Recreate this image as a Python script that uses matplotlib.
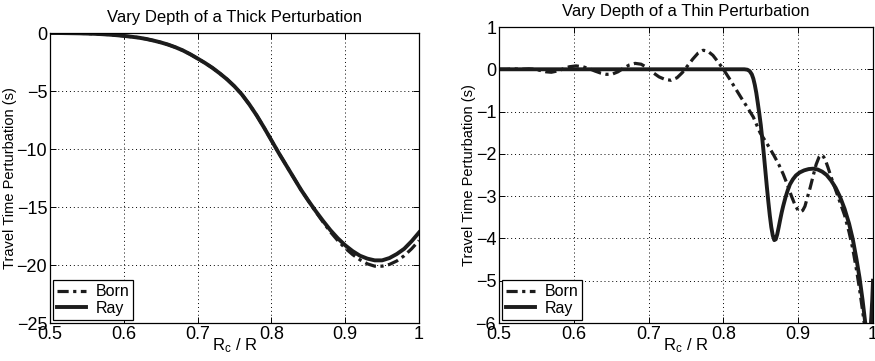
import numpy as np
import matplotlib
matplotlib.use("Agg")
from matplotlib import pyplot as plt

plt.rcParams["font.family"] = ["Liberation Sans", "DejaVu Sans"]
plt.rcParams["mathtext.default"] = "regular"

# ---------------- thick perturbation (left panel) ----------------
thick_x = [0.50, 0.51, 0.52, 0.53, 0.54, 0.55, 0.56, 0.57, 0.58, 0.59,
           0.60, 0.61, 0.62, 0.63, 0.64, 0.65, 0.66, 0.67, 0.68, 0.69,
           0.70, 0.71, 0.72, 0.73, 0.74, 0.75, 0.76, 0.77, 0.78, 0.79,
           0.80, 0.81, 0.82, 0.83, 0.84, 0.85, 0.86, 0.87, 0.88, 0.89,
           0.90, 0.91, 0.92, 0.93, 0.94, 0.95, 0.96, 0.97, 0.98, 0.99, 1.00]
thick_ray = [0.0, 0.0, -0.01, -0.02, -0.03, -0.05, -0.07, -0.10, -0.14, -0.19,
             -0.25, -0.32, -0.40, -0.51, -0.65, -0.81, -1.0, -1.23, -1.5, -1.83,
             -2.2, -2.58, -3.0, -3.48, -4.0, -4.6, -5.3, -6.15, -7.1, -8.15,
             -9.25, -10.35, -11.4, -12.45, -13.5, -14.45, -15.35, -16.2, -17.0, -17.7,
             -18.3, -18.8, -19.2, -19.45, -19.6, -19.6, -19.4, -19.05, -18.6, -17.95, -17.2]
thick_born = [0.0, 0.0, -0.01, -0.02, -0.03, -0.05, -0.07, -0.10, -0.14, -0.19,
              -0.25, -0.32, -0.40, -0.51, -0.65, -0.81, -1.0, -1.23, -1.5, -1.83,
              -2.2, -2.58, -3.0, -3.48, -4.0, -4.6, -5.3, -6.15, -7.1, -8.15,
              -9.25, -10.35, -11.4, -12.45, -13.5, -14.45, -15.4, -16.3, -17.15, -17.9,
              -18.55, -19.1, -19.55, -19.9, -20.1, -20.1, -19.95, -19.65, -19.2, -18.6, -17.9]

# ---------------- thin perturbation (right panel) ----------------
thin_ray_x = [0.500, 0.600, 0.700, 0.800, 0.820, 0.828, 0.832, 0.835, 0.838, 0.840,
              0.842, 0.844, 0.846, 0.848, 0.850, 0.852, 0.854, 0.856, 0.858, 0.860,
              0.862, 0.864, 0.866, 0.868, 0.870, 0.872, 0.874, 0.876, 0.878, 0.880,
              0.883, 0.886, 0.889, 0.893, 0.897, 0.902, 0.908, 0.914, 0.920, 0.926,
              0.932, 0.938, 0.944, 0.950, 0.956, 0.962, 0.968, 0.973, 0.978, 0.982,
              0.986, 0.989, 0.991, 0.993, 0.995, 0.997, 0.999, 1.000]
thin_ray = [0.0, 0.0, 0.0, 0.0, 0.0, 0.0, -0.01, -0.04, -0.12, -0.22,
            -0.37, -0.56, -0.8, -1.05, -1.32, -1.65, -2.0, -2.38, -2.76, -3.12,
            -3.45, -3.73, -3.93, -4.04, -4.02, -3.9, -3.73, -3.55, -3.38, -3.23,
            -3.03, -2.86, -2.72, -2.6, -2.51, -2.44, -2.39, -2.36, -2.35, -2.37,
            -2.42, -2.5, -2.63, -2.8, -3.02, -3.3, -3.65, -4.02, -4.5, -4.93,
            -5.45, -5.9, -6.2, -6.4, -6.45, -6.1, -5.45, -5.0]

thin_born_x = [0.500, 0.510, 0.520, 0.530, 0.540, 0.548, 0.556, 0.563, 0.570, 0.578,
               0.586, 0.594, 0.603, 0.612, 0.620, 0.628, 0.636, 0.644, 0.652, 0.659,
               0.666, 0.674, 0.682, 0.690, 0.698, 0.706, 0.714, 0.722, 0.730, 0.738,
               0.745, 0.752, 0.759, 0.766, 0.773, 0.779, 0.786, 0.793, 0.800, 0.808,
               0.816, 0.824, 0.832, 0.840, 0.849, 0.858, 0.867, 0.874, 0.880, 0.886,
               0.891, 0.896, 0.900, 0.903, 0.906, 0.909, 0.912, 0.916, 0.920, 0.924,
               0.928, 0.931, 0.934, 0.937, 0.940, 0.944, 0.950, 0.956, 0.962, 0.968,
               0.973, 0.978, 0.982, 0.986, 0.989, 0.992, 0.995, 0.997, 0.999, 1.000]
thin_born = [0.0, 0.0, 0.01, 0.0, 0.01, 0.0, -0.03, -0.06, -0.07, -0.04,
             0.01, 0.06, 0.08, 0.06, 0.02, -0.04, -0.09, -0.12, -0.11, -0.06,
             0.02, 0.10, 0.14, 0.12, 0.04, -0.08, -0.18, -0.24, -0.26, -0.20,
             -0.08, 0.08, 0.24, 0.38, 0.45, 0.43, 0.33, 0.17, 0.0, -0.22,
             -0.45, -0.68, -0.9, -1.13, -1.5, -1.75, -2.02, -2.25, -2.48, -2.75,
             -3.0, -3.22, -3.34, -3.37, -3.34, -3.24, -3.05, -2.8, -2.52, -2.25,
             -2.07, -2.02, -2.07, -2.18, -2.33, -2.55, -2.85, -3.15, -3.45, -3.85,
             -4.25, -4.75, -5.2, -5.7, -6.1, -6.45, -6.5, -6.2, -5.6, -5.3]

xticks = [0.5, 0.6, 0.7, 0.8, 0.9, 1.0]
xticklabels = ["0.5", "0.6", "0.7", "0.8", "0.9", "1"]

line_col = "#1c1c1c"
born_style = (0, (3.5, 1.4, 1, 1.4))

fig = plt.figure(figsize=(8.75, 3.61), dpi=100)
ax1 = fig.add_axes([50 / 875, 1 - 323 / 361, 369 / 875, 290 / 361])
ax2 = fig.add_axes([499 / 875, 1 - 323 / 361, 374 / 875, 296 / 361])


def style_axes(ax, title, yticks):
    ax.set_xlim(0.5, 1.0)
    ax.set_xticks(xticks)
    ax.set_xticklabels(xticklabels)
    ax.set_yticks(yticks)
    ax.set_yticklabels(["0" if v == 0 else "\u2212%g" % abs(v) if v < 0 else "%g" % v
                        for v in yticks])
    ax.tick_params(direction="in", top=True, right=True, length=4, width=0.7,
                   labelsize=13, pad=2)
    ax.tick_params(axis="x", pad=2)
    ax.grid(True, linestyle=(0, (1, 3)), color="black", linewidth=0.7)
    for s in ax.spines.values():
        s.set_linewidth(0.9)
    ax.set_title(title, fontsize=12, pad=8)
    ax.set_xlabel("R$_c$ / R", fontsize=12, labelpad=-5)
    ax.set_ylabel("Travel Time Perturbation (s)", fontsize=10.5, labelpad=0)


ax1.plot(thick_x, thick_born, linestyle=born_style, color=line_col,
         linewidth=2.3, label="Born")
ax1.plot(thick_x, thick_ray, linestyle="-", color=line_col, linewidth=2.8,
         label="Ray")
ax1.set_ylim(-25, 0)
style_axes(ax1, "Vary Depth of a Thick Perturbation", [0, -5, -10, -15, -20, -25])

ax2.plot(thin_born_x, thin_born, linestyle=born_style, color=line_col,
         linewidth=2.3, label="Born")
ax2.plot(thin_ray_x, thin_ray, linestyle="-", color=line_col, linewidth=2.8,
         label="Ray")
ax2.set_ylim(-6, 1)
style_axes(ax2, "Vary Depth of a Thin Perturbation", [1, 0, -1, -2, -3, -4, -5, -6])

for ax in (ax1, ax2):
    leg = ax.legend(loc="lower left", fontsize=11.5, fancybox=False,
                    framealpha=1, edgecolor="black", borderaxespad=0.2,
                    handlelength=1.8, handletextpad=0.6, borderpad=0.25,
                    labelspacing=0.1)
    leg.get_frame().set_linewidth(0.9)

fig.savefig("out.png", dpi=100)
